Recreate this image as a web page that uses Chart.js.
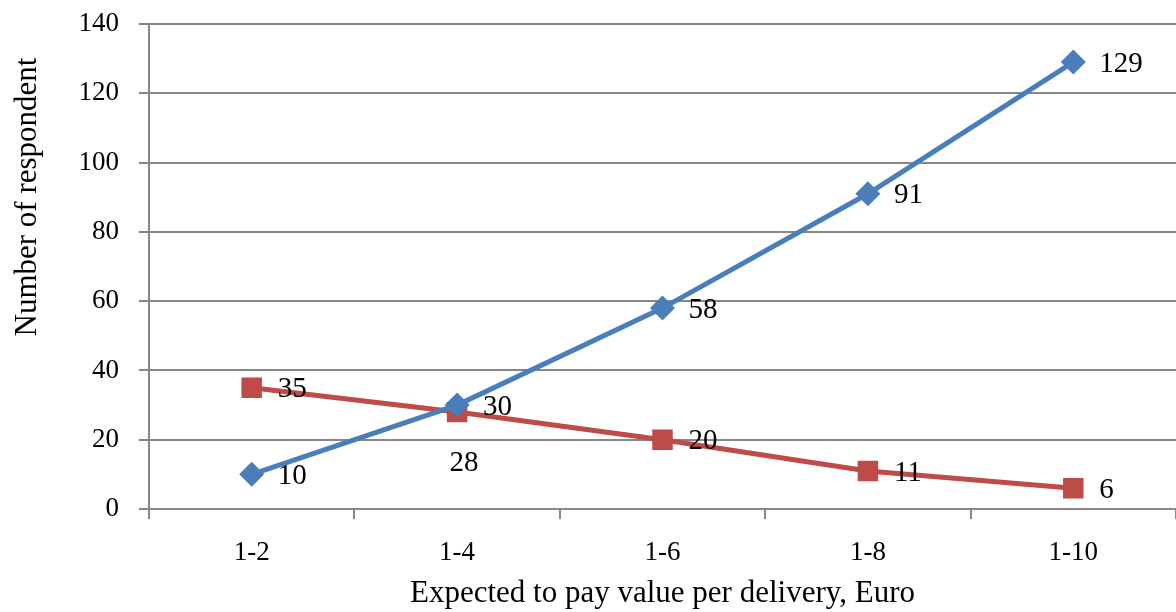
<!DOCTYPE html>
<html>
<head>
<meta charset="utf-8">
<script src="https://cdn.jsdelivr.net/npm/chart.js@4/dist/chart.umd.min.js"></script>
<style>
  html, body { margin: 0; padding: 0; background: #fff; }
  #wrap { width: 1176px; height: 612px; position: relative; }
</style>
</head>
<body>
<div id="wrap"><canvas id="pay-chart"></canvas></div>
<script>
// --------------- data --------------- //
const categories = ['1-2', '1-4', '1-6', '1-8', '1-10'];
const blueValues = [10, 30, 58, 91, 129];
const redValues = [35, 28, 20, 11, 6];
const yMin = 0;
const yMax = 140;
const yStep = 20;

const serif = '"Liberation Serif", "DejaVu Serif", serif';
const gridGray = '#878787';

// value labels next to each point (chart.js has no datalabels here)
const pointLabels = {
  id: 'pointLabels',
  afterDatasetsDraw(chart) {
    const ctx = chart.ctx;
    ctx.save();
    ctx.font = '29px ' + serif;
    ctx.fillStyle = '#000';
    chart.data.datasets.forEach((ds, i) => {
      chart.getDatasetMeta(i).data.forEach((pt, j) => {
        const text = String(ds.data[j]);
        if (ds.labelsBelow && ds.labelsBelow.includes(j)) {
          ctx.textAlign = 'center';
          ctx.textBaseline = 'middle';
          ctx.fillText(text, pt.x + 7, pt.y + 51);
        } else {
          ctx.textAlign = 'left';
          ctx.textBaseline = 'middle';
          ctx.fillText(text, pt.x + 26, pt.y + 2);
        }
      });
    });

    // y axis title sits above centre, like the original
    ctx.translate(28, 197);
    ctx.rotate(-Math.PI / 2);
    ctx.font = '31px ' + serif;
    ctx.textAlign = 'center';
    ctx.textBaseline = 'middle';
    ctx.fillText('Number of respondent', 0, 0);
    ctx.restore();
  }
};

const payData = {
  labels: categories,
  datasets: [
    {
      label: 'Series 1',
      data: blueValues,
      borderColor: '#4A7EBB',
      backgroundColor: '#4A7EBB',
      borderWidth: 5,
      pointStyle: 'rectRot',
      pointRadius: 12.5,
      pointBorderWidth: 0,
      tension: 0,
    },
    {
      label: 'Series 2',
      data: redValues,
      borderColor: '#BE4B48',
      backgroundColor: '#BE4B48',
      borderWidth: 5,
      pointStyle: 'rect',
      pointRadius: 14.5,
      pointBorderWidth: 0,
      tension: 0,
      labelsBelow: [1],
    }
  ]
};

const payOptions = {
  responsive: true,
  maintainAspectRatio: false,
  animation: false,
  layout: {
    autoPadding: false,
    padding: { left: 56, top: 24, right: 0, bottom: 0 }
  },
  plugins: {
    legend: { display: false },
    tooltip: { enabled: false },
  },
  scales: {
    x: {
      offset: true,
      grid: {
        display: true,
        drawOnChartArea: false,
        offset: true,
        tickLength: 10,
        color: gridGray,
        lineWidth: 2,
      },
      border: { color: gridGray, width: 2 },
      ticks: {
        color: '#000',
        padding: 18,
        font: { family: serif, size: 27 },
      },
      title: {
        display: true,
        text: 'Expected to pay value per delivery, Euro',
        color: '#000',
        font: { family: serif, size: 31 },
        padding: { top: 8, bottom: 0 },
      },
      afterFit: s => {
        s.height = 103;
        s.paddingLeft = 0;
        s.paddingRight = 0;
      },
    },
    y: {
      min: yMin,
      max: yMax,
      grid: {
        color: gridGray,
        lineWidth: 2,
        tickLength: 10,
      },
      border: { color: gridGray, width: 2 },
      ticks: {
        stepSize: yStep,
        color: '#000',
        padding: 20,
        font: { family: serif, size: 27 },
      },
      afterFit: s => {
        s.width = 149 - 56;
        s.paddingTop = 0;
        s.paddingBottom = 0;
      },
    }
  }
};

const payChart = new Chart(document.getElementById('pay-chart'), {
  type: 'line',
  data: payData,
  plugins: [pointLabels],
  options: payOptions
});
</script>
</body>
</html>
